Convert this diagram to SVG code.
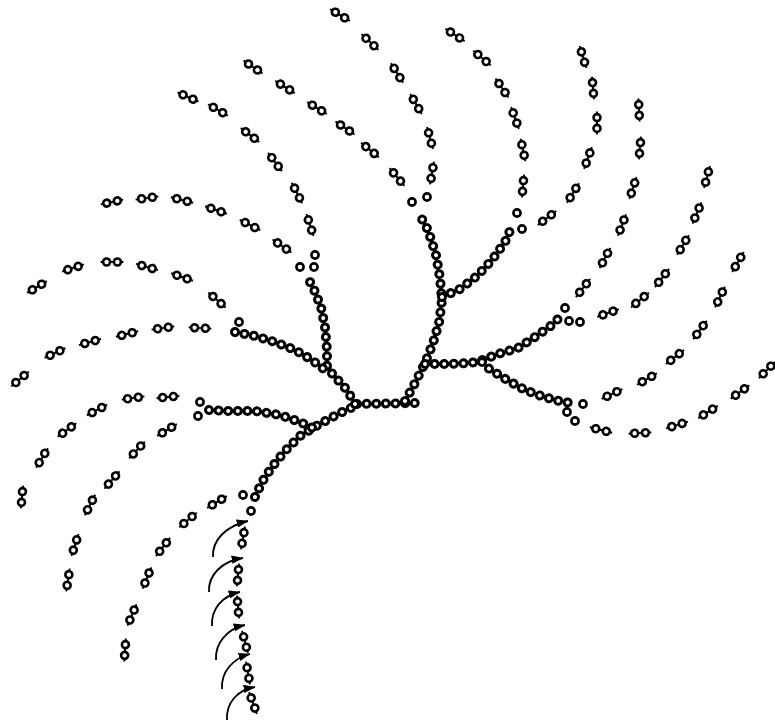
<svg xmlns="http://www.w3.org/2000/svg" xmlns:xlink="http://www.w3.org/1999/xlink" width="775" height="724" viewBox="0 0 775 724">
<style>
.bk{fill:none;stroke:#000;stroke-width:10;stroke-linecap:round;stroke-linejoin:round;stroke-dasharray:0.01 9.6}
.wh{fill:none;stroke:#fff;stroke-width:4;stroke-linecap:round;stroke-linejoin:round;stroke-dasharray:0.01 9.6}
.rg{fill:#fff;stroke:#000;stroke-width:2.6}
.ar{fill:none;stroke:#000;stroke-width:1.8}
</style>
<defs>
<marker id="ah" viewBox="0 0 10 7" refX="9.5" refY="3.5" markerWidth="12" markerHeight="8.4" markerUnits="userSpaceOnUse" orient="auto">
<path d="M0,0 L10,3.5 L0,7 z" fill="#000"/>
</marker>
<g id="dm">
<path d="M-11.5,0H11.5" stroke="#000" stroke-width="1.9"/>
<circle cx="-5.4" cy="0" r="3.5" class="rg"/>
<circle cx="5.4" cy="0" r="3.5" class="rg"/>
</g>
<path id="c1" d="M255,497 L262,482 L272,467 L285,451 L300,436 L318,425 L338,414 L357,405"/>
<path id="c2" d="M357,404 L422,403"/>
<path id="c3" d="M209,410 L230,411 L255,411 L280,415 L300,422 L313,428"/>
<path id="c4" d="M355,404 L347,390 L338,380 L327,368 L327,350 L325,327 L321,307 L313,287 L307,277"/>
<path id="c5" d="M235,332 L255,336 L275,342 L295,350 L312,360 L325,370"/>
<path id="c6" d="M405,401 L415,383 L425,363 L433,343 L439,323 L442,300 L440,278 L436,255 L428,230 L418,212"/>
<path id="c7" d="M442,297 L460,289 L477,276 L492,260 L505,242 L513,224"/>
<path id="c8" d="M425,364 L448,364 L470,363 L480,361 L498,354 L518,348 L535,337 L552,325 L562,315"/>
<path id="c9" d="M482,362 L488,368 L507,380 L525,390 L544,397 L563,402 L573,403"/>
</defs>
<rect width="775" height="724" fill="#fff"/>
<g id="core">
<use xlink:href="#c1" class="bk"/><use xlink:href="#c1" class="wh"/>
<use xlink:href="#c2" class="bk"/><use xlink:href="#c2" class="wh"/>
<use xlink:href="#c3" class="bk"/><use xlink:href="#c3" class="wh"/>
<use xlink:href="#c4" class="bk"/><use xlink:href="#c4" class="wh"/>
<use xlink:href="#c5" class="bk"/><use xlink:href="#c5" class="wh"/>
<use xlink:href="#c6" class="bk"/><use xlink:href="#c6" class="wh"/>
<use xlink:href="#c7" class="bk"/><use xlink:href="#c7" class="wh"/>
<use xlink:href="#c8" class="bk"/><use xlink:href="#c8" class="wh"/>
<use xlink:href="#c9" class="bk"/><use xlink:href="#c9" class="wh"/>
<g id="junctions">
<circle class="rg" cx="243" cy="495" r="3.6"/><circle class="rg" cx="251" cy="511" r="3.6"/>
<circle class="rg" cx="200" cy="402" r="3.6"/><circle class="rg" cx="198" cy="416" r="3.6"/>
<circle class="rg" cx="239" cy="322" r="3.6"/>
<circle class="rg" cx="300" cy="267" r="3.6"/><circle class="rg" cx="314" cy="267" r="3.6"/><circle class="rg" cx="315" cy="255" r="3.6"/>
<circle class="rg" cx="412" cy="202" r="3.6"/><circle class="rg" cx="427" cy="197" r="3.6"/>
<circle class="rg" cx="517" cy="213" r="3.6"/><circle class="rg" cx="522" cy="229" r="3.6"/>
<circle class="rg" cx="565" cy="308" r="3.6"/><circle class="rg" cx="569" cy="321" r="3.6"/><circle class="rg" cx="580" cy="322" r="3.6"/>
<circle class="rg" cx="583" cy="404" r="3.6"/><circle class="rg" cx="567" cy="412" r="3.6"/><circle class="rg" cx="575" cy="421" r="3.6"/>
</g>
</g>
<g id="arm-T1">
<use xlink:href="#dm" transform="translate(432,173) rotate(100)"/>
<use xlink:href="#dm" transform="translate(430,138) rotate(75)"/>
<use xlink:href="#dm" transform="translate(416,104) rotate(60)"/>
<use xlink:href="#dm" transform="translate(397,73) rotate(58)"/>
<use xlink:href="#dm" transform="translate(370,42) rotate(43)"/>
<use xlink:href="#dm" transform="translate(340,15) rotate(31)"/>
</g>
<g id="arm-T1b">
<use xlink:href="#dm" transform="translate(397,177) rotate(50)"/>
<use xlink:href="#dm" transform="translate(370,150) rotate(39)"/>
<use xlink:href="#dm" transform="translate(345,128) rotate(34)"/>
<use xlink:href="#dm" transform="translate(317,108) rotate(31)"/>
<use xlink:href="#dm" transform="translate(285,87) rotate(32)"/>
<use xlink:href="#dm" transform="translate(253,67) rotate(34)"/>
</g>
<g id="arm-T2">
<use xlink:href="#dm" transform="translate(310,225) rotate(72)"/>
<use xlink:href="#dm" transform="translate(297,193) rotate(63)"/>
<use xlink:href="#dm" transform="translate(275,162) rotate(53)"/>
<use xlink:href="#dm" transform="translate(250,135) rotate(37)"/>
<use xlink:href="#dm" transform="translate(218,110) rotate(30)"/>
<use xlink:href="#dm" transform="translate(188,97) rotate(24)"/>
</g>
<g id="arm-L1">
<use xlink:href="#dm" transform="translate(282,246) rotate(35)"/>
<use xlink:href="#dm" transform="translate(250,225) rotate(27)"/>
<use xlink:href="#dm" transform="translate(216,210) rotate(19)"/>
<use xlink:href="#dm" transform="translate(182,200) rotate(14)"/>
<use xlink:href="#dm" transform="translate(147,198) rotate(-8)"/>
<use xlink:href="#dm" transform="translate(112,202) rotate(-12)"/>
</g>
<g id="arm-L2">
<use xlink:href="#dm" transform="translate(217,300) rotate(41)"/>
<use xlink:href="#dm" transform="translate(182,277) rotate(19)"/>
<use xlink:href="#dm" transform="translate(147,267) rotate(16)"/>
<use xlink:href="#dm" transform="translate(112,262) rotate(0)"/>
<use xlink:href="#dm" transform="translate(73,268) rotate(-18)"/>
<use xlink:href="#dm" transform="translate(37,287) rotate(-31)"/>
</g>
<g id="arm-L3">
<use xlink:href="#dm" transform="translate(200,328) rotate(3)"/>
<use xlink:href="#dm" transform="translate(163,328) rotate(-8)"/>
<use xlink:href="#dm" transform="translate(127,334) rotate(-14)"/>
<use xlink:href="#dm" transform="translate(90,342) rotate(-16)"/>
<use xlink:href="#dm" transform="translate(55,353) rotate(-25)"/>
<use xlink:href="#dm" transform="translate(20,379) rotate(-40)"/>
</g>
<g id="arm-L4">
<use xlink:href="#dm" transform="translate(168,397) rotate(-6)"/>
<use xlink:href="#dm" transform="translate(133,398) rotate(-8)"/>
<use xlink:href="#dm" transform="translate(97,410) rotate(-28)"/>
<use xlink:href="#dm" transform="translate(67,430) rotate(-36)"/>
<use xlink:href="#dm" transform="translate(42,458) rotate(-59)"/>
<use xlink:href="#dm" transform="translate(22,497) rotate(-85)"/>
</g>
<g id="arm-L5">
<use xlink:href="#dm" transform="translate(167,430) rotate(-31)"/>
<use xlink:href="#dm" transform="translate(137,450) rotate(-47)"/>
<use xlink:href="#dm" transform="translate(112,480) rotate(-49)"/>
<use xlink:href="#dm" transform="translate(90,505) rotate(-63)"/>
<use xlink:href="#dm" transform="translate(75,545) rotate(-72)"/>
<use xlink:href="#dm" transform="translate(68,580) rotate(-81)"/>
</g>
<g id="arm-L6">
<use xlink:href="#dm" transform="translate(217,502) rotate(-31)"/>
<use xlink:href="#dm" transform="translate(188,520) rotate(-40)"/>
<use xlink:href="#dm" transform="translate(163,547) rotate(-52)"/>
<use xlink:href="#dm" transform="translate(147,578) rotate(-68)"/>
<use xlink:href="#dm" transform="translate(132,615) rotate(-67)"/>
<use xlink:href="#dm" transform="translate(125,650) rotate(-86)"/>
</g>
<g id="arm-B">
<use xlink:href="#dm" transform="translate(243,538) rotate(100)"/>
<use xlink:href="#dm" transform="translate(238,575) rotate(95)"/>
<use xlink:href="#dm" transform="translate(238,607) rotate(85)"/>
<use xlink:href="#dm" transform="translate(245,642) rotate(75)"/>
<use xlink:href="#dm" transform="translate(248,673) rotate(80)"/>
<use xlink:href="#dm" transform="translate(253,703) rotate(70)"/>
</g>
<g id="arm-T3">
<use xlink:href="#dm" transform="translate(523,186) rotate(95)"/>
<use xlink:href="#dm" transform="translate(523,150) rotate(78)"/>
<use xlink:href="#dm" transform="translate(515,118) rotate(70)"/>
<use xlink:href="#dm" transform="translate(502,88) rotate(56)"/>
<use xlink:href="#dm" transform="translate(482,58) rotate(40)"/>
<use xlink:href="#dm" transform="translate(455,35) rotate(33)"/>
</g>
<g id="arm-T4">
<use xlink:href="#dm" transform="translate(547,218) rotate(-37)"/>
<use xlink:href="#dm" transform="translate(573,193) rotate(-58)"/>
<use xlink:href="#dm" transform="translate(588,158) rotate(-70)"/>
<use xlink:href="#dm" transform="translate(597,123) rotate(90)"/>
<use xlink:href="#dm" transform="translate(593,88) rotate(85)"/>
<use xlink:href="#dm" transform="translate(583,57) rotate(73)"/>
</g>
<g id="arm-R1">
<use xlink:href="#dm" transform="translate(583,288) rotate(-52)"/>
<use xlink:href="#dm" transform="translate(605,258) rotate(-62)"/>
<use xlink:href="#dm" transform="translate(622,225) rotate(-69)"/>
<use xlink:href="#dm" transform="translate(633,188) rotate(-72)"/>
<use xlink:href="#dm" transform="translate(640,148) rotate(-85)"/>
<use xlink:href="#dm" transform="translate(639,110) rotate(87)"/>
</g>
<g id="arm-R2">
<use xlink:href="#dm" transform="translate(608,313) rotate(-20)"/>
<use xlink:href="#dm" transform="translate(640,300) rotate(-39)"/>
<use xlink:href="#dm" transform="translate(662,278) rotate(-52)"/>
<use xlink:href="#dm" transform="translate(683,245) rotate(-59)"/>
<use xlink:href="#dm" transform="translate(697,213) rotate(-67)"/>
<use xlink:href="#dm" transform="translate(707,177) rotate(-75)"/>
</g>
<g id="arm-R3">
<use xlink:href="#dm" transform="translate(612,394) rotate(-25)"/>
<use xlink:href="#dm" transform="translate(647,379) rotate(-30)"/>
<use xlink:href="#dm" transform="translate(675,357) rotate(-38)"/>
<use xlink:href="#dm" transform="translate(700,330) rotate(-54)"/>
<use xlink:href="#dm" transform="translate(720,297) rotate(-65)"/>
<use xlink:href="#dm" transform="translate(738,262) rotate(-60)"/>
</g>
<g id="arm-R4">
<use xlink:href="#dm" transform="translate(601,430) rotate(14)"/>
<use xlink:href="#dm" transform="translate(640,433) rotate(-3)"/>
<use xlink:href="#dm" transform="translate(677,425) rotate(-17)"/>
<use xlink:href="#dm" transform="translate(708,412) rotate(-32)"/>
<use xlink:href="#dm" transform="translate(740,392) rotate(-36)"/>
<use xlink:href="#dm" transform="translate(767,370) rotate(-45)"/>
</g>
<g id="connectors">
<path class="ar" marker-end="url(#ah)" d="M213,557 C212,540 226,526 248,521"/>
<path class="ar" marker-end="url(#ah)" d="M209,592 C208,575 222,561 243,558"/>
<path class="ar" marker-end="url(#ah)" d="M212,626 C211,609 222,596 240,592"/>
<path class="ar" marker-end="url(#ah)" d="M216,660 C215,643 227,629 245,625"/>
<path class="ar" marker-end="url(#ah)" d="M222,689 C221,672 232,659 250,654"/>
<path class="ar" marker-end="url(#ah)" d="M227,720 C226,703 237,690 255,687"/>
</g>
</svg>
